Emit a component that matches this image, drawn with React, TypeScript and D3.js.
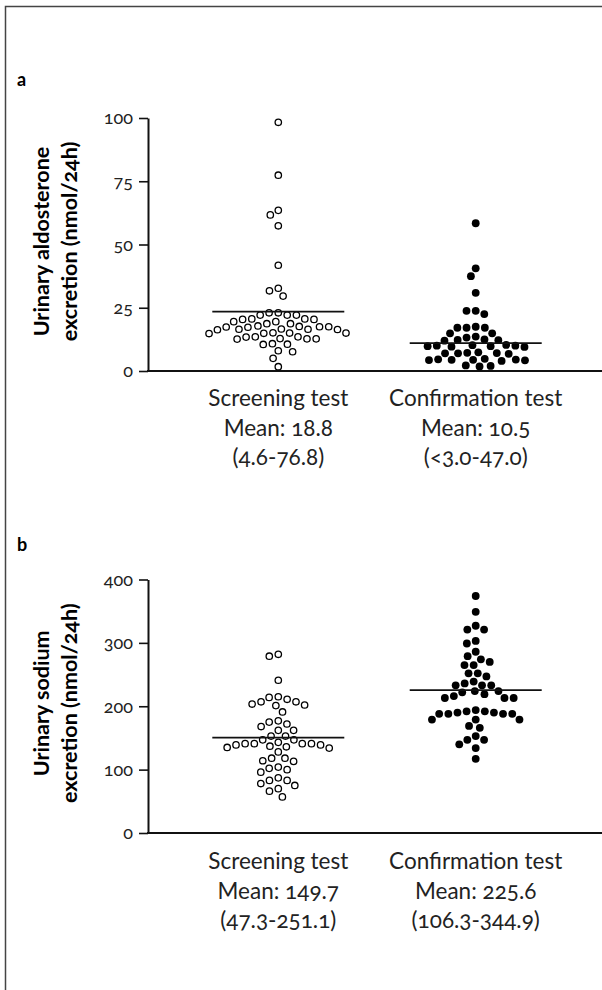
import React, { useEffect, useRef } from 'react';
import * as d3 from 'd3';

const groups = ['Screening test', 'Confirmation test'];

// panel a: urinary aldosterone (nmol/24h)
const aldoScreening = [98.3, 77.4, 63.5, 61.7, 57.4, 41.8, 32.7, 31.7, 29.6, 23.0, 23.0, 22.1, 22.1, 22.1,
  20.6, 20.6, 20.4, 20.4, 19.5, 19.5, 18.7, 18.7, 17.8, 17.6, 17.5, 17.5, 17.4, 17.3, 16.6, 16.5, 16.5,
  16.4, 16.3, 15.1, 15.0, 15.0, 14.9, 14.8, 13.5, 13.4, 13.5, 12.8, 12.7, 12.7, 12.6, 10.8, 10.6, 10.5,
  8.0, 7.6, 5.0, 1.7];
const aldoConfirmation = [58.4, 40.6, 37.5, 30.9, 23.8, 23.8, 22.5, 17.5, 17.1, 17.1, 17.1, 14.9, 14.9,
  13.6, 13.2, 12.5, 12.3, 12.2, 12.0, 10.3, 10.2, 10.0, 10.0, 9.8, 9.8, 9.6, 9.5, 7.4, 7.2, 7.1, 7.0, 7.0,
  6.8, 4.8, 4.6, 4.5, 4.4, 4.4, 4.3, 4.2, 4.0, 2.2, 2.0, 1.8];
const aldoLines = [23.5, 11.0];
const aldoTicks = [0, 25, 50, 75, 100];
const aldoStats = [['Mean: 18.8', '(4.6-76.8)'], ['Mean: 10.5', '(<3.0-47.0)']];
const aldoTitle = ['Urinary aldosterone', 'excretion (nmol/24h)'];

// panel b: urinary sodium (nmol/24h)
const sodiumScreening = [282, 279, 241, 215, 214, 211, 207, 207, 203.5, 202, 201, 191, 177, 175, 172, 168,
  162, 162, 153, 153, 147, 147, 143, 141, 141, 141, 141, 139, 139, 137, 136, 135, 134, 128, 118, 118, 114,
  113, 104, 102, 100, 96, 87, 83, 83, 78, 75, 70, 66, 57];
const sodiumConfirmation = [374, 349, 327, 321, 321, 303, 299, 286, 279, 274, 270, 265, 265, 252, 252, 247,
  239, 236, 233, 233, 233, 224, 224, 222, 219, 216, 213, 213, 213, 194, 192, 192, 190, 190, 188, 188, 188,
  188, 179, 179, 179, 169, 166, 153, 147, 147, 140, 134, 117];
const sodiumLines = [150.5, 225.6];
const sodiumTicks = [0, 100, 200, 300, 400];
const sodiumStats = [['Mean: 149.7', '(47.3-251.1)'], ['Mean: 225.6', '(106.3-344.9)']];
const sodiumTitle = ['Urinary sodium', 'excretion (nmol/24h)'];

const FONT = 'Lato, "Open Sans", sans-serif';

// beeswarm, filled from the bottom up: each point takes the free spot closest to the centre
function swarm(ys: number[], gap: number): number[] {
  const order = ys.map((y, i) => i).sort((a, b) => ys[a] - ys[b]);
  const placed: { x: number; y: number }[] = [];
  const xs = new Array(ys.length).fill(0);
  order.forEach(i => {
    const y = ys[i];
    const near = placed.filter(p => Math.abs(p.y - y) < gap);
    const cands = [0];
    near.forEach(p => {
      const dx = Math.sqrt(gap * gap - (p.y - y) ** 2);
      cands.push(p.x + dx, p.x - dx);
    });
    cands.sort((a, b) => Math.abs(a) - Math.abs(b) || a - b);
    const x = cands.find(c => near.every(p => (p.x - c) ** 2 + (p.y - y) ** 2 >= gap * gap - 0.01)) ?? 0;
    xs[i] = x;
    placed.push({ x, y });
  });
  return xs;
}

const App: React.FC = () => {
  const svgRef = useRef<SVGSVGElement>(null);

  useEffect(() => {
    if (!svgRef.current) return;
    document.body.style.margin = '0';
    const svg = d3.select(svgRef.current);
    svg.selectAll('*').remove();

    // frame
    svg.append('path')
      .attr('d', 'M5.5,995 V6.5 H610')
      .attr('fill', 'none')
      .attr('stroke', '#444')
      .attr('stroke-width', 1.5);

    const x = d3.scalePoint<string>().domain(groups).range([148, 606]).padding(0.66);

    const panels = [
      { letter: 'a', letterY: 86, series: [aldoScreening, aldoConfirmation], lines: aldoLines, ticks: aldoTicks,
        stats: aldoStats, title: aldoTitle, domain: [0, 100], range: [371, 118], labelGap: 35 },
      { letter: 'b', letterY: 551, series: [sodiumScreening, sodiumConfirmation], lines: sodiumLines, ticks: sodiumTicks,
        stats: sodiumStats, title: sodiumTitle, domain: [0, 400], range: [833, 579.5], labelGap: 36 },
    ];

    panels.forEach(p => {
      const y = d3.scaleLinear().domain(p.domain).range(p.range);
      const g = svg.append('g');

      g.append('text')
        .attr('x', 17).attr('y', p.letterY)
        .attr('font-family', FONT).attr('font-weight', 700).attr('font-size', 18)
        .text(p.letter);

      // y axis title
      const yc = (p.range[0] + p.range[1]) / 2 - 3;
      p.title.forEach((t, i) => {
        g.append('text')
          .attr('transform', `translate(${49 + i * 28},${yc}) rotate(-90)`)
          .attr('text-anchor', 'middle')
          .attr('font-family', FONT).attr('font-weight', 700).attr('font-size', 21.5)
          .style('font-variant-numeric', 'oldstyle-nums')
          .text(t);
      });

      const yAxis = g.append('g')
        .attr('transform', 'translate(148,0)')
        .call(d3.axisLeft(y).tickValues(p.ticks).tickSize(9).tickPadding(6).tickSizeOuter(0));
      yAxis.select('.domain').attr('stroke', '#111').attr('stroke-width', 2);
      yAxis.selectAll('.tick line').attr('stroke', '#111').attr('stroke-width', 1.6);
      yAxis.selectAll('.tick text')
        .attr('font-family', FONT).attr('font-size', 18).attr('fill', '#222')
        .style('font-variant-numeric', 'oldstyle-nums');

      // x axis line
      g.append('line')
        .attr('x1', 147).attr('x2', 610)
        .attr('y1', y(0)).attr('y2', y(0))
        .attr('stroke', '#111').attr('stroke-width', 2);

      p.series.forEach((vals, gi) => {
        const cx = x(groups[gi])!;
        const py = vals.map(v => y(v));
        const offs = swarm(py, 9.2);
        g.append('g').selectAll('circle')
          .data(vals)
          .enter()
          .append('circle')
          .attr('cx', (d, i) => cx + offs[i])
          .attr('cy', (d, i) => py[i])
          .attr('r', gi === 0 ? 3.2 : 3.9)
          .attr('fill', gi === 0 ? '#fff' : '#000')
          .attr('stroke', '#000')
          .attr('stroke-width', gi === 0 ? 1.3 : 0);

        g.append('line')
          .attr('x1', cx - 66).attr('x2', cx + 66)
          .attr('y1', y(p.lines[gi])).attr('y2', y(p.lines[gi]))
          .attr('stroke', '#111').attr('stroke-width', 1.8);

        const lines = [groups[gi], ...p.stats[gi]];
        lines.forEach((t, li) => {
          g.append('text')
            .attr('x', cx).attr('y', y(0) + p.labelGap + li * 29.5)
            .attr('text-anchor', 'middle')
            .attr('font-family', FONT).attr('font-size', 22.5).attr('fill', '#222')
            .style('font-variant-numeric', 'oldstyle-nums')
            .text(t);
        });
      });
    });
  }, []);

  return (
    <svg ref={svgRef} width="602" height="990" viewBox="0 0 602 990"
      style={{ display: 'block', background: '#fff' }} />
  );
};

export default App;
